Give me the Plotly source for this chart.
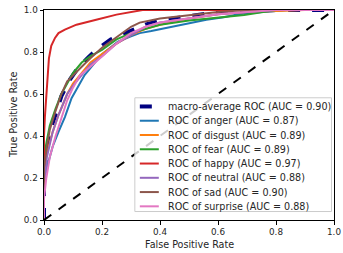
import plotly.graph_objects as go

names = ["macro-average ROC (AUC = 0.90)", "ROC of anger (AUC = 0.87)", "ROC of disgust (AUC = 0.89)",
         "ROC of fear (AUC = 0.89)", "ROC of happy (AUC = 0.97)", "ROC of neutral (AUC = 0.88)",
         "ROC of sad (AUC = 0.90)", "ROC of surprise (AUC = 0.88)"]

macro_fpr = [0, 0, 0.01, 0.02, 0.03, 0.04, 0.06, 0.09, 0.12, 0.15, 0.18, 0.23, 0.3, 0.35, 0.4, 0.5, 0.6, 0.7, 0.8, 1.0]
macro_tpr = [0, 0.22, 0.33, 0.41, 0.46, 0.5, 0.59, 0.67, 0.73, 0.77, 0.81, 0.86, 0.9, 0.93, 0.95, 0.97, 0.99, 0.995, 1.0, 1.0]

anger_fpr = [0, 0, 0.01, 0.03, 0.05, 0.072, 0.095, 0.14, 0.2, 0.255, 0.3, 0.33, 0.37, 0.44, 0.5, 0.56, 0.62, 0.67, 0.75, 0.85, 1.0]
anger_tpr = [0, 0.15, 0.25, 0.35, 0.42, 0.49, 0.58, 0.69, 0.79, 0.85, 0.875, 0.89, 0.9, 0.92, 0.935, 0.954, 0.965, 0.98, 0.99, 1, 1]

disgust_fpr = [0, 0, 0.01, 0.03, 0.05, 0.08, 0.1, 0.13, 0.16, 0.2, 0.25, 0.3, 0.35, 0.4, 0.5, 0.6, 0.7, 0.8, 0.9, 1]
disgust_tpr = [0, 0.25, 0.32, 0.42, 0.5, 0.6, 0.65, 0.7, 0.75, 0.79, 0.84, 0.88, 0.91, 0.93, 0.96, 0.98, 0.99, 0.995, 1, 1]

fear_fpr = [0, 0, 0.01, 0.02, 0.04, 0.06, 0.08, 0.1, 0.13, 0.16, 0.2, 0.25, 0.3, 0.35, 0.4, 0.5, 0.6, 0.69, 0.8, 1]
fear_tpr = [0, 0.3, 0.38, 0.45, 0.53, 0.6, 0.65, 0.7, 0.75, 0.78, 0.81, 0.86, 0.89, 0.91, 0.93, 0.95, 0.965, 0.976, 1.0, 1.0]

happy_fpr = [0, 0, 0.003, 0.01, 0.017, 0.025, 0.038, 0.05, 0.072, 0.112, 0.15, 0.18, 0.25, 0.296, 0.34, 0.4, 1]
happy_tpr = [0, 0.4, 0.49, 0.65, 0.77, 0.83, 0.867, 0.89, 0.907, 0.93, 0.945, 0.954, 0.978, 0.99, 1.0, 1.0, 1.0]

neutral_fpr = [0, 0, 0.01, 0.03, 0.05, 0.08, 0.1, 0.13, 0.16, 0.2, 0.25, 0.3, 0.35, 0.4, 0.5, 0.6, 0.7, 0.8, 1]
neutral_tpr = [0, 0.15, 0.3, 0.42, 0.5, 0.6, 0.64, 0.69, 0.74, 0.78, 0.84, 0.88, 0.92, 0.94, 0.96, 0.98, 0.99, 1, 1]

sad_fpr = [0, 0, 0.01, 0.02, 0.04, 0.06, 0.08, 0.1, 0.13, 0.16, 0.2, 0.25, 0.3, 0.33, 0.4, 0.5, 0.6, 0.7, 1]
sad_tpr = [0, 0.25, 0.35, 0.43, 0.52, 0.6, 0.66, 0.69, 0.73, 0.77, 0.82, 0.87, 0.92, 0.94, 0.96, 0.975, 0.99, 1, 1]

surprise_fpr = [0, 0, 0.008, 0.02, 0.04, 0.061, 0.08, 0.1, 0.124, 0.16, 0.2, 0.25, 0.3, 0.35, 0.4, 0.5, 0.6, 0.7, 0.8, 1]
surprise_tpr = [0, 0.1, 0.2, 0.3, 0.4, 0.49, 0.57, 0.63, 0.69, 0.73, 0.78, 0.84, 0.89, 0.92, 0.94, 0.96, 0.98, 0.99, 1, 1]

diag = [0, 1]
ticks = [0.0, 0.2, 0.4, 0.6, 0.8, 1.0]
tick_text = ["0.0", "0.2", "0.4", "0.6", "0.8", "1.0"]
x_title = "False Positive Rate"
y_title = "True Positive Rate"

curves = [(macro_fpr, macro_tpr), (anger_fpr, anger_tpr), (disgust_fpr, disgust_tpr), (fear_fpr, fear_tpr),
          (happy_fpr, happy_tpr), (neutral_fpr, neutral_tpr), (sad_fpr, sad_tpr), (surprise_fpr, surprise_tpr)]
colors = ["#000080", "#1f77b4", "#ff7f0e", "#2ca02c", "#d62728", "#9467bd", "#8c564b", "#e377c2"]

W, H = 343, 253
ML, MR, MT, MB = 44, 8.5, 10, 32.5
PW, PH = W - ML - MR, H - MT - MB
FAM = "DejaVu Sans"
TXT = "#262626"


def px(xp):
    return (xp - ML) / PW


def py(yp):
    return (H - MB - yp) / PH


fig = go.Figure()
for i, ((fx, ty), nm, c) in enumerate(zip(curves, names, colors)):
    fig.add_trace(go.Scatter(x=fx, y=ty, mode="lines", name=nm, showlegend=False,
                             line=dict(color=c, width=4 if i == 0 else 2, dash="dash" if i == 0 else "solid")))
fig.add_trace(go.Scatter(x=diag, y=diag, mode="lines", showlegend=False,
                         line=dict(color="black", width=2, dash="dash")))

# custom legend (matplotlib-like compact layout)
shapes = [dict(type="rect", xref="paper", yref="paper", layer="above",
               x0=px(135), x1=px(332), y0=py(212), y1=py(98),
               fillcolor="rgba(255,255,255,0.8)", line=dict(color="#cccccc", width=1))]
annotations = []
for i, (nm, c) in enumerate(zip(names, colors)):
    yc = 106.7 + i * 14.3
    shapes.append(dict(type="line", xref="paper", yref="paper", layer="above",
                       x0=px(140), x1=px(159), y0=py(yc), y1=py(yc),
                       line=dict(color=c, width=4 if i == 0 else 2, dash="dash" if i == 0 else "solid")))
    annotations.append(dict(x=px(167), y=py(yc), xref="paper", yref="paper", text=nm, showarrow=False,
                            xanchor="left", yanchor="middle", xshift=-1,
                            font=dict(family=FAM, size=9.6, color=TXT)))

# axis titles
annotations.append(dict(x=0.5, y=py(245), xref="paper", yref="paper", text=x_title, showarrow=False,
                        xanchor="center", yanchor="middle", font=dict(family=FAM, size=9.6, color=TXT)))
annotations.append(dict(x=px(13), y=0.5, xref="paper", yref="paper", text=y_title, showarrow=False,
                        textangle=-90, xanchor="center", yanchor="middle",
                        font=dict(family=FAM, size=9.6, color=TXT)))

fig.update_layout(
    width=W, height=H,
    margin=dict(l=ML, r=MR, t=MT, b=MB, autoexpand=False),
    plot_bgcolor="white", paper_bgcolor="white",
    font=dict(family=FAM, size=9, color=TXT),
    showlegend=False,
    shapes=shapes,
    annotations=annotations,
)
axis_common = dict(range=[0, 1], tickvals=ticks, ticktext=tick_text, showgrid=False, zeroline=False,
                   showline=True, linecolor="black", linewidth=1, mirror=True, automargin=False,
                   ticks="outside", ticklen=3.5, tickcolor="black",
                   tickfont=dict(family=FAM, size=8.8, color=TXT))
fig.update_xaxes(**axis_common)
fig.update_yaxes(**axis_common)

fig.write_html("out.html", config={"displayModeBar": False},
               post_script="document.body.style.margin='0';document.body.style.overflow='hidden';")
